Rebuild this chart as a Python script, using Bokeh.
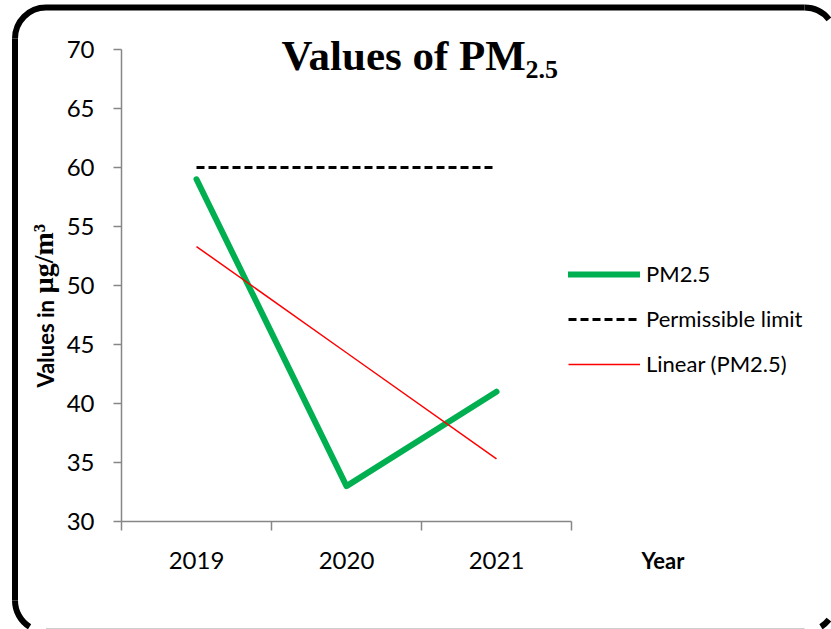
import numpy as np
from bokeh.plotting import figure
from bokeh.models import (LinearAxis, FixedTicker, Range1d, Legend, LegendItem,
                          Label)
from bokeh.embed import file_html
from bokeh.resources import INLINE

# ---- data ----
years = ["2019", "2020", "2021"]
pm25 = [59, 33, 41]
permissible = [60, 60, 60]
linear_pm25 = [53.3, 44.3, 35.3]
y_ticks = [30, 35, 40, 45, 50, 55, 60, 65, 70]

# ---- layout (canvas pixels, canvas == page) ----
W, H = 831, 629
PX0, PX1 = 121, 571      # x of category axis start / end
PY_TOP, PY_BOT = 49, 521  # y (from top) of 70 and 30
n = len(years)
ymin, ymax = 30, 70
xu = n / (PX1 - PX0)
x_start = 0 - PX0 * xu
x_end = n + (W - PX1) * xu
yu = (ymax - ymin) / (PY_BOT - PY_TOP)
y_end = ymax + PY_TOP * yu
y_start = ymin - (H - PY_BOT) * yu

def sy(page_y):
    return H - page_y

def sx(page_x):
    return page_x

def px_to_x(px):
    return x_start + px * xu

def py_to_y(py):
    return y_end - py * yu

p = figure(width=W, height=H, x_range=Range1d(x_start, x_end),
           y_range=Range1d(y_start, y_end), output_backend="svg",
           toolbar_location=None, min_border=0, x_axis_type=None,
           y_axis_type=None)
p.outline_line_color = None
p.background_fill_color = "white"
p.border_fill_color = "white"

AX = "#868686"
TICK_FONT = "Lato"

# ---- rounded outer frame: only the parts that fall inside the picture ----
BL, BR, BT, BB, RAD = 14.5, 835, 7, 631, 31
d = np.pi / 180
p.segment(x0=[px_to_x(BL), px_to_x(BL + RAD)],
          y0=[py_to_y(BT + RAD), py_to_y(BT)],
          x1=[px_to_x(BL), px_to_x(BR - RAD)],
          y1=[py_to_y(BB - RAD), py_to_y(BT)],
          line_color="black", line_width=6)
p.segment(x0=[px_to_x(BL + RAD)], y0=[py_to_y(628.5)],
          x1=[px_to_x(BR - RAD)], y1=[py_to_y(628.5)],
          line_color="#9a9a9a", line_width=1)
p.arc(x=[px_to_x(BL + RAD), px_to_x(BR - RAD), px_to_x(BL + RAD), px_to_x(BR - RAD)],
      y=[py_to_y(BT + RAD), py_to_y(BT + RAD), py_to_y(BB - RAD), py_to_y(BB - RAD)],
      radius=RAD, radius_units="screen",
      start_angle=[90 * d, 38 * d, 180 * d, 302 * d],
      end_angle=[180 * d, 90 * d, 238 * d, 322 * d],
      direction="anticlock", line_color="black", line_width=6)

yaxis = LinearAxis(fixed_location=0, bounds=(ymin, ymax),
                   ticker=FixedTicker(ticks=y_ticks))
yaxis.axis_line_color = AX
yaxis.axis_line_width = 1.5
yaxis.major_tick_line_color = AX
yaxis.major_tick_line_width = 1.5
yaxis.major_tick_out = 8
yaxis.major_tick_in = 0
yaxis.minor_tick_line_color = None
yaxis.major_label_standoff = 19
yaxis.major_label_text_font = TICK_FONT
yaxis.major_label_text_font_size = "24px"
yaxis.major_label_text_color = "black"
p.add_layout(yaxis, "left")

xaxis = LinearAxis(fixed_location=ymin, bounds=(0, n),
                   ticker=FixedTicker(ticks=list(range(n + 1))))
xaxis.axis_line_color = AX
xaxis.axis_line_width = 1.5
xaxis.major_tick_line_color = AX
xaxis.major_tick_line_width = 1.5
xaxis.major_tick_out = 9
xaxis.major_tick_in = 0
xaxis.minor_tick_line_color = None
xaxis.major_label_text_alpha = 0
xaxis.major_label_overrides = {i: "" for i in range(n + 1)}
p.add_layout(xaxis, "below")

cat_pos = [i + 0.5 for i in range(n)]
cataxis = LinearAxis(fixed_location=ymin,
                     ticker=FixedTicker(ticks=cat_pos))
cataxis.axis_line_color = None
cataxis.major_tick_line_color = None
cataxis.minor_tick_line_color = None
cataxis.major_tick_out = 0
cataxis.major_tick_in = 0
cataxis.major_label_overrides = {c: y for c, y in zip(cat_pos, years)}
cataxis.major_label_standoff = 30
cataxis.major_label_text_font = TICK_FONT
cataxis.major_label_text_font_size = "24px"
cataxis.major_label_text_color = "black"
p.add_layout(cataxis, "below")

# ---- series ----
x = np.arange(n) + 0.5
r_pm = p.line(x, pm25, line_color="#00B050", line_width=6,
              line_cap="round", line_join="round")
r_lin = p.line(x, linear_pm25, line_color="#FF0000", line_width=1.5)
r_lim = p.line(x, permissible, line_color="black", line_width=3,
               line_dash="8 4")

legend = Legend(items=[LegendItem(label="PM2.5", renderers=[r_pm]),
                       LegendItem(label="Permissible limit", renderers=[r_lim]),
                       LegendItem(label="Linear (PM2.5)", renderers=[r_lin])],
                location=(sx(568), sy(377)))
legend.glyph_width = 72
legend.glyph_height = 24
legend.label_height = 24
legend.label_standoff = 6
legend.spacing = 18
legend.padding = 0
legend.margin = 0
legend.border_line_color = None
legend.background_fill_alpha = 0
legend.label_text_font = "Lato"
legend.label_text_font_size = "22px"
legend.label_text_color = "black"
p.add_layout(legend)

# ---- texts ----
p.add_layout(Label(x=sx(281), y=sy(55), x_units="screen", y_units="screen",
                   text="Values of PM", text_font="Liberation Serif",
                   text_font_style="bold", text_font_size="43px",
                   text_baseline="alphabetic", text_align="left",
                   text_color="black"))
p.add_layout(Label(x=sx(525), y=sy(69), x_units="screen", y_units="screen",
                   text="2.5", text_font="Liberation Serif",
                   text_font_style="bold", text_font_size="26px",
                   text_baseline="alphabetic", text_align="left",
                   text_color="black"))
p.add_layout(Label(x=sx(45), y=sy(387), x_units="screen", y_units="screen",
                   text="Values in", angle=np.pi / 2, text_font="Lato",
                   text_font_style="bold", text_font_size="22px",
                   text_baseline="alphabetic", text_align="left",
                   text_color="black"))
p.add_layout(Label(x=sx(43), y=sy(293), x_units="screen", y_units="screen",
                   text="µg/m³", angle=np.pi / 2, text_font="Liberation Serif",
                   text_font_style="bold", text_font_size="28px",
                   text_baseline="alphabetic", text_align="left",
                   text_color="black"))
p.add_layout(Label(x=sx(641), y=sy(560), x_units="screen", y_units="screen",
                   text="Year", text_font="Lato", text_font_style="bold",
                   text_font_size="22px", text_baseline="alphabetic",
                   text_align="left", text_color="black"))

open("out.html", "w").write(file_html(p, INLINE))
